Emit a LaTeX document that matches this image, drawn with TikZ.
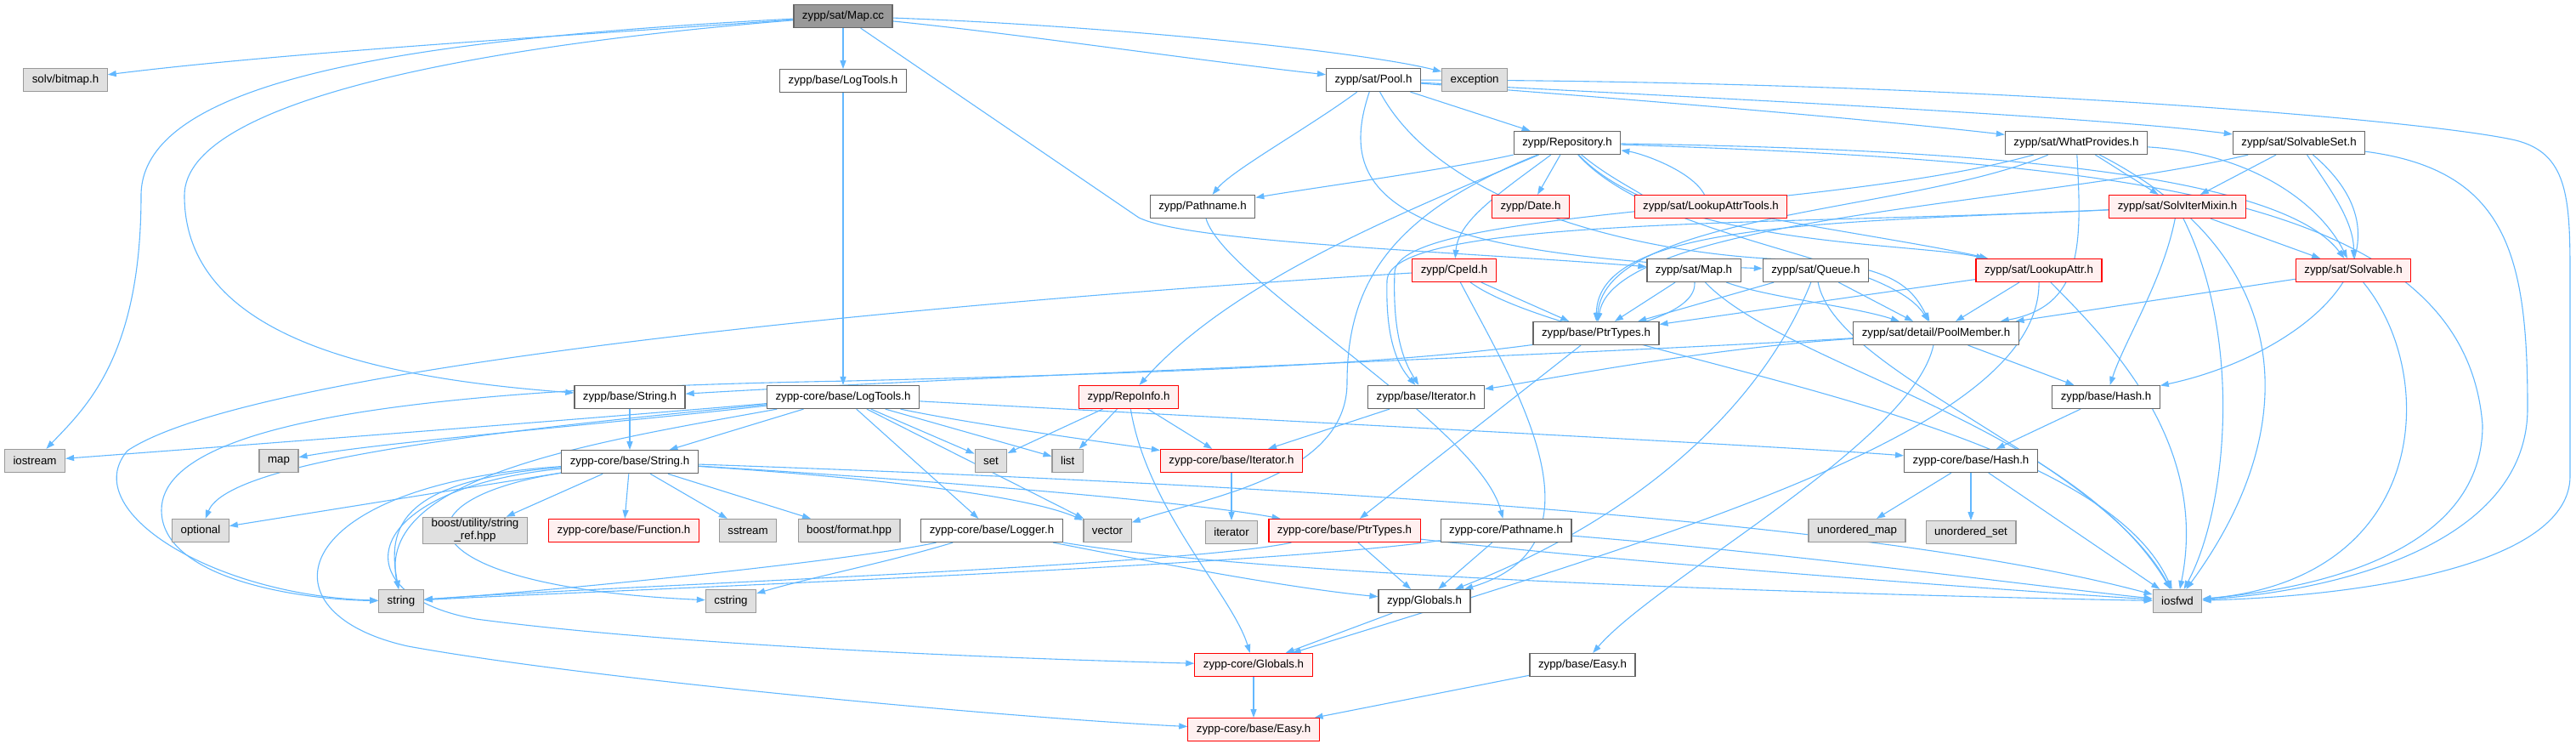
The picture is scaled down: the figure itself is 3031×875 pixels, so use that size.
\documentclass[tikz,border=0pt]{standalone}
\usepackage{fontspec}
\setmainfont{Liberation Sans}
\usetikzlibrary{positioning,arrows.meta,backgrounds}

\definecolor{incblue}{HTML}{63B8FF}
\definecolor{hdrgray}{HTML}{666666}
\definecolor{sysgray}{HTML}{999999}
\definecolor{sysfill}{HTML}{E0E0E0}
\definecolor{cutfill}{HTML}{FFF0F0}

\tikzset{
  hdrnode/.style={draw=hdrgray, fill=white, line width=1.2pt, minimum height=27pt,
    inner xsep=10pt, inner ysep=2pt, align=center, font=\fontsize{13.3}{15}\selectfont},
  cutnode/.style={hdrnode, draw=red, fill=cutfill},
  sysnode/.style={hdrnode, draw=sysgray, fill=sysfill},
  srcnode/.style={hdrnode, fill=sysgray},
  inc/.style={draw=incblue, line width=1.1pt, -{Triangle[length=10pt,width=7pt]}},
}

\begin{document}
\begin{tikzpicture}[x=1pt, y=-1pt]
  \useasboundingbox (0,0) rectangle (3031,875);

  \node[srcnode] (mapcc) at (992,19) {zypp/sat/Map.cc};

  \node[sysnode] (bitmap) at (77,94) {solv/bitmap.h};
  \node[hdrnode, below=48pt of mapcc] (baselog) {zypp/base/LogTools.h};
  \node[hdrnode] (pool) at (1616,94) {zypp/sat/Pool.h};
  \node[sysnode, right=24pt of pool] (exception) {exception};

  \node[hdrnode] (repo) at (1844,168) {zypp/Repository.h};
  \node[hdrnode] (whatprov) at (2443,168) {zypp/sat/WhatProvides.h};
  \node[hdrnode] (solvset) at (2705,168) {zypp/sat/SolvableSet.h};

  \node[hdrnode] (pathname) at (1415,243) {zypp/Pathname.h};
  \node[cutnode] (date) at (1801,243) {zypp/Date.h};
  \node[cutnode] (lattrtools) at (2013,243) {zypp/sat/LookupAttrTools.h};
  \node[cutnode] (mixin) at (2562,243) {zypp/sat/SolvIterMixin.h};

  \node[cutnode] (cpeid) at (1711,318) {zypp/CpeId.h};
  \node[hdrnode] (satmap) at (1993,318) {zypp/sat/Map.h};
  \node[hdrnode, right=25pt of satmap] (queue) {zypp/sat/Queue.h};
  \node[cutnode] (lattr) at (2399,318) {zypp/sat/LookupAttr.h};
  \node[cutnode] (solvable) at (2769,318) {zypp/sat/Solvable.h};

  \node[hdrnode] (ptrtypes) at (1878,392) {zypp/base/PtrTypes.h};
  \node[hdrnode] (poolmember) at (2278,392) {zypp/sat/detail/PoolMember.h};

  \node[hdrnode] (basestring) at (741,467) {zypp/base/String.h};
  \node[hdrnode] (corelog) at (992,467) {zypp-core/base/LogTools.h};
  \node[cutnode] (repoinfo) at (1328,467) {zypp/RepoInfo.h};
  \node[hdrnode] (baseiter) at (1678,467) {zypp/base/Iterator.h};
  \node[hdrnode] (basehash) at (2478,467) {zypp/base/Hash.h};

  \node[sysnode] (iostream) at (41,542) {iostream};
  \node[sysnode] (map) at (328,542) {map};
  \node[hdrnode, below=48pt of basestring] (corestring) {zypp-core/base/String.h};
  \node[sysnode] (set) at (1166,542) {set};
  \node[sysnode, right=52pt of set] (list) {list};
  \node[cutnode] (coreiter) at (1449,542) {zypp-core/base/Iterator.h};
  \node[hdrnode] (corehash) at (2319,542) {zypp-core/base/Hash.h};

  \node[sysnode] (optional) at (236,624) {optional};
  \node[sysnode] (stringref) at (559,624) {boost/utility/string\\\_ref.hpp};
  \node[cutnode] (function) at (734,624) {zypp-core/base/Function.h};
  \node[sysnode] (sstream) at (880,624) {sstream};
  \node[sysnode] (format) at (999,624) {boost/format.hpp};
  \node[hdrnode] (logger) at (1167,624) {zypp-core/base/Logger.h};
  \node[sysnode] (vector) at (1303,624) {vector};
  \node[sysnode, below=56pt of coreiter] (iterator) {iterator};
  \node[cutnode] (coreptr) at (1582,624) {zypp-core/base/PtrTypes.h};
  \node[hdrnode] (corepath) at (1772,624) {zypp-core/Pathname.h};
  \node[sysnode] (umap) at (2185,624) {unordered\_map};
  \node[sysnode, below=56pt of corehash] (uset) {unordered\_set};

  \node[sysnode] (string) at (472,707) {string};
  \node[sysnode] (cstring) at (860,707) {cstring};
  \node[hdrnode] (globals) at (1676,707) {zypp/Globals.h};
  \node[sysnode] (iosfwd) at (2562,707) {iosfwd};

  \node[cutnode] (coreglobals) at (1475,782) {zypp-core/Globals.h};
  \node[hdrnode] (easy) at (1862,782) {zypp/base/Easy.h};
  \node[cutnode, below=48pt of coreglobals] (coreeasy) {zypp-core/base/Easy.h};

  \begin{scope}[on background layer]
    \draw[inc] (mapcc) .. controls (700,40) and (350,60) .. (bitmap);
    \draw[inc] (mapcc) .. controls (500,45) and (166,90) .. (166,230) .. controls (166,420) and (100,480) .. (iostream);
    \draw[inc] (mapcc) .. controls (550,55) and (217,120) .. (217,230) .. controls (217,400) and (450,445) .. (basestring);
    \draw[inc] (mapcc) -- (baselog);
    \draw[inc] (mapcc) .. controls (1200,40) and (1400,70) .. (pool);
    \draw[inc] (mapcc) .. controls (1300,30) and (1600,60) .. (exception);
    \draw[inc] (mapcc) -- (1340,256) .. controls (1400,285) and (1700,295) .. (satmap);

    \draw[inc] (baselog) -- (corelog);

    \draw[inc] (pool) .. controls (1540,150) and (1450,200) .. (pathname);
    \draw[inc] (pool) -- (repo);
    \draw[inc] (pool) .. controls (1900,115) and (2200,140) .. (whatprov);
    \draw[inc] (pool) .. controls (1900,110) and (2450,135) .. (solvset);
    \draw[inc] (pool) .. controls (2300,95) and (2850,140) .. (2960,165) .. controls (3020,180) and (3024,230) .. (3024,320) -- (3024,560) .. controls (3024,660) and (2800,700) .. (iosfwd);
    \draw[inc] (pool) .. controls (1570,230) and (1640,300) .. (queue);
    \draw[inc] (pool) .. controls (1700,250) and (1950,300) .. (2100,305) .. controls (2230,310) and (2250,340) .. (poolmember);

    \draw[inc] (repo) .. controls (1700,200) and (1550,220) .. (pathname);
    \draw[inc] (repo) -- (date);
    \draw[inc] (repo) .. controls (1900,215) and (1950,235) .. (lattrtools);
    \draw[inc] (lattrtools) .. controls (1990,200) and (1930,180) .. (repo);
    \draw[inc] (repo) .. controls (1760,230) and (1716,260) .. (cpeid);
    \draw[inc] (repo) .. controls (1650,250) and (1450,330) .. (repoinfo);
    \draw[inc] (repo) .. controls (1640,250) and (1585,330) .. (1585,450) .. controls (1585,560) and (1420,585) .. (vector);
    \draw[inc] (repo) .. controls (1960,290) and (2250,285) .. (lattr);
    \draw[inc] (repo) .. controls (2300,175) and (2680,200) .. (solvable);
    \draw[inc] (repo) .. controls (1950,285) and (2220,300) .. (poolmember);
    \draw[inc] (repo) .. controls (2500,190) and (2900,230) .. (2921,500) .. controls (2921,640) and (2750,690) .. (iosfwd);

    \draw[inc] (cpeid) -- (ptrtypes);
    \draw[inc] (cpeid) .. controls (1100,355) and (300,430) .. (150,530) .. controls (90,600) and (250,700) .. (string);
    \draw[inc] (cpeid) .. controls (1780,450) and (1900,640) .. (globals);
    \draw[inc] (cpeid) .. controls (1850,420) and (2460,480) .. (iosfwd);

    \draw[inc] (satmap) -- (ptrtypes);
    \draw[inc] (satmap) .. controls (2080,350) and (2180,360) .. (poolmember);
    \draw[inc] (satmap) .. controls (2100,430) and (2440,500) .. (iosfwd);
    \draw[inc] (satmap) .. controls (2000,420) and (1500,435) .. (1000,448) .. controls (600,455) and (190,480) .. (190,600) .. controls (190,680) and (350,705) .. (string);

    \draw[inc] (queue) -- (ptrtypes);
    \draw[inc] (queue) -- (poolmember);
    \draw[inc] (queue) .. controls (2160,440) and (2470,540) .. (iosfwd);
    \draw[inc] (queue) .. controls (2080,460) and (1950,600) .. (globals);

    \draw[inc] (lattrtools) .. controls (2150,270) and (2280,290) .. (lattr);

    \draw[inc] (lattr) -- (ptrtypes);
    \draw[inc] (lattr) -- (poolmember);
    \draw[inc] (lattr) .. controls (2480,400) and (2600,520) .. (iosfwd);
    \draw[inc] (lattr) .. controls (2400,500) and (2000,620) .. (coreglobals);

    \draw[inc] (whatprov) -- (mixin);
    \draw[inc] (whatprov) .. controls (2650,180) and (2730,240) .. (solvable);
    \draw[inc] (whatprov) .. controls (2450,290) and (2450,360) .. (poolmember);
    \draw[inc] (whatprov) .. controls (2250,250) and (1890,250) .. (ptrtypes);
    \draw[inc] (whatprov) .. controls (2150,250) and (1645,245) .. (1641,320) .. controls (1638,400) and (1655,430) .. (baseiter);
    \draw[inc] (whatprov) .. controls (2700,300) and (2714,500) .. (iosfwd);

    \draw[inc] (solvset) -- (mixin);
    \draw[inc] (solvset) .. controls (2740,220) and (2770,260) .. (solvable);
    \draw[inc] (solvset) .. controls (2860,300) and (2700,420) .. (basehash);
    \draw[inc] (solvset) .. controls (2950,200) and (2974,300) .. (2974,480) .. controls (2974,640) and (2750,695) .. (iosfwd);
    \draw[inc] (solvset) .. controls (2400,240) and (1900,255) .. (ptrtypes);

    \draw[inc] (mixin) -- (solvable);
    \draw[inc] (mixin) .. controls (2545,330) and (2500,400) .. (basehash);
    \draw[inc] (mixin) .. controls (2640,400) and (2620,600) .. (iosfwd);
    \draw[inc] (mixin) .. controls (2150,262) and (1880,262) .. (ptrtypes);
    \draw[inc] (mixin) .. controls (2100,265) and (1635,255) .. (1632,330) .. controls (1630,400) and (1645,430) .. (baseiter);

    \draw[inc] (solvable) -- (poolmember);
    \draw[inc] (solvable) .. controls (2870,440) and (2860,680) .. (iosfwd);

    \draw[inc] (ptrtypes) -- (coreptr);

    \draw[inc] (poolmember) -- (basehash);
    \draw[inc] (poolmember) .. controls (2000,410) and (1800,450) .. (baseiter);
    \draw[inc] (poolmember) .. controls (1800,420) and (1200,440) .. (basestring);
    \draw[inc] (poolmember) .. controls (2250,520) and (1950,680) .. (easy);

    \draw[inc] (pathname) .. controls (1440,330) and (1740,500) .. (corepath);

    \draw[inc] (basestring) -- (corestring);

    \draw[inc] (corelog) .. controls (600,500) and (200,530) .. (iostream);
    \draw[inc] (corelog) .. controls (700,500) and (450,520) .. (map);
    \draw[inc] (corelog) .. controls (600,505) and (270,540) .. (optional);
    \draw[inc] (corelog) .. controls (700,520) and (440,560) .. (string);
    \draw[inc] (corelog) -- (corestring);
    \draw[inc] (corelog) -- (set);
    \draw[inc] (corelog) -- (list);
    \draw[inc] (corelog) .. controls (1150,500) and (1300,520) .. (coreiter);
    \draw[inc] (corelog) -- (vector);
    \draw[inc] (corelog) -- (logger);
    \draw[inc] (corelog) .. controls (1600,500) and (2100,525) .. (corehash);

    \draw[inc] (repoinfo) -- (set);
    \draw[inc] (repoinfo) -- (list);
    \draw[inc] (repoinfo) -- (coreiter);
    \draw[inc] (repoinfo) .. controls (1350,600) and (1450,700) .. (coreglobals);

    \draw[inc] (baseiter) -- (coreiter);
    \draw[inc] (coreiter) -- (iterator);
    \draw[inc] (basehash) -- (corehash);
    \draw[inc] (corehash) -- (umap);
    \draw[inc] (corehash) -- (uset);
    \draw[inc] (corehash) -- (iosfwd);

    \draw[inc] (corestring) -- (optional);
    \draw[inc] (corestring) -- (stringref);
    \draw[inc] (corestring) -- (function);
    \draw[inc] (corestring) -- (sstream);
    \draw[inc] (corestring) -- (format);
    \draw[inc] (corestring) .. controls (1000,560) and (1200,580) .. (vector);
    \draw[inc] (corestring) .. controls (1100,565) and (1400,590) .. (coreptr);
    \draw[inc] (corestring) .. controls (1500,570) and (2200,610) .. (iosfwd);
    \draw[inc] (corestring) .. controls (470,565) and (455,620) .. (string);
    \draw[inc] (corestring) .. controls (450,590) and (480,690) .. (cstring);
    \draw[inc] (corestring) .. controls (420,575) and (400,700) .. (560,728) .. controls (800,760) and (1200,775) .. (coreglobals);
    \draw[inc] (corestring) .. controls (340,570) and (300,720) .. (480,760) .. controls (700,800) and (1200,845) .. (coreeasy);

    \draw[inc] (logger) .. controls (1000,660) and (650,695) .. (string);
    \draw[inc] (logger) .. controls (1050,660) and (950,680) .. (cstring);
    \draw[inc] (logger) .. controls (1300,650) and (1500,690) .. (globals);
    \draw[inc] (logger) .. controls (1500,680) and (2200,700) .. (iosfwd);

    \draw[inc] (coreptr) .. controls (1400,665) and (700,690) .. (string);
    \draw[inc] (coreptr) -- (globals);
    \draw[inc] (coreptr) .. controls (1900,660) and (2300,690) .. (iosfwd);

    \draw[inc] (corepath) .. controls (1500,665) and (700,695) .. (string);
    \draw[inc] (corepath) -- (globals);
    \draw[inc] (corepath) .. controls (2100,650) and (2400,690) .. (iosfwd);

    \draw[inc] (globals) -- (coreglobals);
    \draw[inc] (easy) -- (coreeasy);
    \draw[inc] (coreglobals) -- (coreeasy);
  \end{scope}
\end{tikzpicture}
\end{document}
